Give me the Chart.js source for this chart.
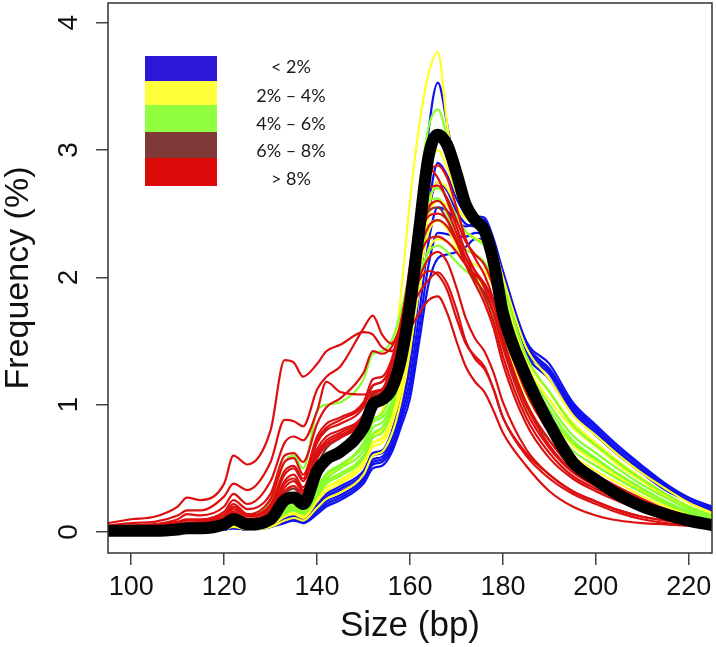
<!DOCTYPE html>
<html>
<head>
<meta charset="utf-8">
<script src="https://cdn.jsdelivr.net/npm/chart.js@4.4.0/dist/chart.umd.min.js"></script>
<style>
  html, body { margin: 0; padding: 0; background: #fff; }
  #wrap { width: 716px; height: 647px; position: relative; }
</style>
</head>
<body>
<div id="wrap"><canvas id="sizeChart"></canvas></div>
<script>
// fragment sizes (bp) where each profile is sampled
const sizes = [95,100,105,110,112,115,120,122,125,130,133,135,137,140,142,145,150,152,154,156,158,160,162,164,166,168,170,172,174,176,178,180,185,190,195,200,205,210,215,220,225];

// frequency (%) per sample, grouped by class
const under2 = [
  [0,0,0,0.01,0.01,0.01,0.03,0.05,0.03,0.06, 0.12,0.14,0.11,0.22,0.30,0.36,0.48,0.62,0.64,0.78, 1.08,1.55,2.30,3.15,3.53,3.20,2.80,2.55,2.46,2.45, 2.28,2.02,1.48,1.28,1.00,0.82,0.65,0.51,0.37,0.27, 0.19],
  [0,0,0,0.01,0.01,0.01,0.02,0.04,0.02,0.05, 0.10,0.12,0.10,0.20,0.27,0.32,0.44,0.57,0.59,0.72, 0.95,1.30,1.90,2.55,2.90,2.80,2.62,2.50,2.48,2.47, 2.30,2.05,1.50,1.32,1.02,0.84,0.67,0.52,0.38,0.27, 0.20],
  [0,0,0,0.01,0.01,0.01,0.02,0.03,0.02,0.04, 0.09,0.11,0.09,0.18,0.24,0.29,0.42,0.55,0.57,0.68, 0.90,1.20,1.72,2.28,2.55,2.52,2.44,2.40,2.42,2.40, 2.24,2.00,1.46,1.28,0.99,0.80,0.63,0.49,0.36,0.25, 0.18],
  [0,0,0,0,0.01,0.01,0.02,0.03,0.02,0.04, 0.08,0.10,0.08,0.16,0.22,0.27,0.40,0.53,0.55,0.65, 0.86,1.12,1.60,2.10,2.35,2.34,2.32,2.32,2.35,2.34, 2.20,1.96,1.44,1.26,0.97,0.78,0.62,0.48,0.35,0.25, 0.17],
  [0,0,0,0,0.01,0.01,0.02,0.03,0.02,0.04, 0.07,0.09,0.07,0.14,0.20,0.25,0.38,0.50,0.52,0.62, 0.82,1.05,1.50,1.95,2.15,2.18,2.20,2.24,2.30,2.30, 2.17,1.94,1.42,1.24,0.95,0.76,0.60,0.47,0.34,0.24, 0.16],
  [0,0,0,0.01,0.01,0.01,0.03,0.04,0.03,0.05, 0.11,0.13,0.11,0.21,0.28,0.34,0.46,0.60,0.62,0.75, 1.00,1.38,2.00,2.52,2.75,2.68,2.52,2.42,2.40,2.38, 2.22,1.98,1.40,1.20,0.93,0.76,0.60,0.46,0.33,0.24, 0.16]
];
const from2to4 = [
  [0.01,0.01,0.01,0.02,0.02,0.02,0.04,0.06,0.04,0.08, 0.17,0.19,0.16,0.33,0.44,0.50,0.70,0.88,0.95,1.25, 1.85,2.60,3.20,3.60,3.77,3.20,2.78,2.56,2.47,2.42, 2.25,1.95,1.38,1.10,0.85,0.68,0.52,0.40,0.28,0.19, 0.12],
  [0,0.01,0.01,0.01,0.02,0.02,0.03,0.05,0.03,0.06, 0.13,0.15,0.12,0.26,0.35,0.40,0.55,0.70,0.74,0.88, 1.18,1.65,2.30,2.82,3.00,2.86,2.66,2.50,2.42,2.36, 2.20,1.93,1.36,1.10,0.86,0.70,0.55,0.42,0.30,0.20, 0.13],
  [0,0,0.01,0.01,0.01,0.02,0.03,0.05,0.03,0.05, 0.12,0.14,0.11,0.24,0.32,0.38,0.52,0.67,0.70,0.84, 1.10,1.50,2.05,2.48,2.60,2.56,2.46,2.36,2.31,2.26, 2.10,1.86,1.32,1.04,0.82,0.67,0.53,0.40,0.29,0.20, 0.13],
  [0,0,0.01,0.01,0.01,0.02,0.03,0.05,0.03,0.06, 0.13,0.15,0.12,0.26,0.35,0.41,0.55,0.70,0.73,0.86, 1.10,1.45,1.90,2.22,2.30,2.28,2.22,2.15,2.10,2.05, 1.92,1.70,1.20,0.90,0.68,0.55,0.43,0.32,0.22,0.15, 0.10],
  [0,0,0.01,0.01,0.01,0.01,0.02,0.04,0.02,0.04, 0.09,0.11,0.09,0.19,0.26,0.31,0.45,0.60,0.63,0.76, 1.02,1.42,2.02,2.55,2.75,2.70,2.56,2.46,2.43,2.41, 2.26,2.00,1.45,1.20,0.92,0.76,0.60,0.46,0.34,0.23, 0.15],
  [0.01,0.01,0.01,0.02,0.02,0.02,0.04,0.06,0.04,0.07, 0.15,0.18,0.15,0.30,0.40,0.46,0.60,0.76,0.80,0.92, 1.18,1.56,2.02,2.36,2.45,2.38,2.25,2.10,2.00,1.92, 1.78,1.55,1.08,0.80,0.60,0.48,0.38,0.28,0.20,0.13, 0.09]
];
const from4to6 = [
  [0.01,0.01,0.01,0.02,0.02,0.02,0.04,0.07,0.04,0.08, 0.18,0.20,0.17,0.34,0.45,0.52,0.70,0.88,0.93,1.10, 1.48,2.05,2.70,3.18,3.32,3.10,2.80,2.56,2.43,2.36, 2.16,1.86,1.26,0.96,0.72,0.58,0.45,0.34,0.24,0.16, 0.10],
  [0.02,0.03,0.03,0.05,0.06,0.07,0.12,0.20,0.14,0.25, 0.55,0.60,0.50,0.95,1.00,1.02,1.20,1.40,1.42,1.50, 1.72,2.05,2.40,2.60,2.62,2.50,2.30,2.10,1.95,1.85, 1.68,1.45,0.98,0.72,0.52,0.42,0.33,0.24,0.17,0.11, 0.07],
  [0,0.01,0.01,0.01,0.02,0.02,0.03,0.06,0.04,0.07, 0.15,0.18,0.15,0.30,0.40,0.46,0.60,0.77,0.82,0.97, 1.28,1.72,2.30,2.62,2.70,2.62,2.48,2.36,2.30,2.25, 2.10,1.85,1.30,1.00,0.76,0.62,0.49,0.37,0.27,0.18, 0.12],
  [0,0.01,0.01,0.01,0.02,0.02,0.04,0.07,0.04,0.08, 0.17,0.20,0.16,0.32,0.42,0.50,0.64,0.82,0.86,1.00, 1.30,1.70,2.15,2.40,2.45,2.40,2.32,2.22,2.18,2.12, 1.98,1.75,1.22,0.92,0.70,0.57,0.45,0.34,0.24,0.16, 0.10],
  [0,0.01,0.01,0.01,0.02,0.02,0.03,0.06,0.03,0.07, 0.14,0.17,0.14,0.28,0.38,0.44,0.58,0.74,0.78,0.94, 1.28,1.80,2.50,2.98,3.10,2.95,2.70,2.50,2.40,2.35, 2.20,1.95,1.38,1.10,0.84,0.68,0.54,0.41,0.30,0.20, 0.13],
  [0.01,0.01,0.01,0.02,0.02,0.02,0.04,0.08,0.05,0.09, 0.19,0.22,0.18,0.35,0.46,0.53,0.68,0.86,0.90,1.02, 1.28,1.62,2.00,2.20,2.25,2.20,2.12,2.05,2.00,1.95, 1.82,1.60,1.12,0.85,0.64,0.52,0.41,0.31,0.22,0.15, 0.10]
];
const from6to8 = [
  [0.01,0.02,0.02,0.03,0.03,0.04,0.07,0.12,0.08,0.13, 0.30,0.34,0.28,0.52,0.66,0.74,0.90,1.08,1.12,1.25, 1.52,1.90,2.30,2.52,2.55,2.45,2.28,2.10,1.98,1.88, 1.72,1.48,1.00,0.72,0.50,0.40,0.31,0.23,0.16,0.10, 0.06]
];
const over8 = [
  [0.07,0.10,0.12,0.20,0.27,0.25,0.38,0.60,0.53,0.80, 1.35,1.33,1.22,1.32,1.42,1.47,1.57,1.55,1.45,1.42, 1.50,1.60,1.72,1.82,1.85,1.72,1.50,1.30,1.18,1.10, 0.95,0.78,0.52,0.32,0.20,0.13,0.09,0.07,0.06,0.05, 0.05],
  [0.05,0.07,0.08,0.13,0.17,0.17,0.28,0.38,0.33,0.55, 0.88,0.87,0.83,1.12,1.22,1.30,1.60,1.70,1.55,1.48, 1.60,1.75,1.88,1.98,2.04,1.95,1.75,1.50,1.36,1.28, 1.12,0.90,0.60,0.42,0.30,0.22,0.15,0.10,0.07,0.06, 0.05],
  [0.04,0.05,0.06,0.10,0.14,0.13,0.20,0.30,0.22,0.40, 0.70,0.75,0.72,0.95,1.18,1.10,1.08,1.10,1.12,1.30, 1.55,1.80,2.00,2.15,2.20,2.12,1.92,1.68,1.52,1.42, 1.25,1.02,0.65,0.45,0.32,0.24,0.17,0.12,0.09,0.07, 0.06],
  [0.03,0.04,0.05,0.07,0.09,0.09,0.14,0.22,0.14,0.26, 0.55,0.58,0.45,0.75,0.85,0.90,1.02,1.20,1.22,1.35, 1.65,2.00,2.35,2.55,2.60,2.52,2.35,2.15,2.00,1.85, 1.65,1.38,0.90,0.62,0.44,0.34,0.26,0.19,0.14,0.10, 0.07],
  [0.02,0.03,0.04,0.05,0.06,0.07,0.11,0.18,0.12,0.20, 0.45,0.50,0.40,0.70,0.80,0.85,0.98,1.15,1.18,1.32, 1.62,2.05,2.50,2.80,2.88,2.78,2.55,2.30,2.15,2.02, 1.82,1.52,1.00,0.68,0.48,0.37,0.28,0.20,0.14,0.10, 0.07],
  [0.03,0.05,0.06,0.08,0.10,0.10,0.16,0.25,0.18,0.30, 0.60,0.62,0.55,0.85,0.98,1.05,1.25,1.42,1.40,1.45, 1.62,1.82,1.98,2.05,2.02,1.90,1.68,1.48,1.38,1.30, 1.12,0.90,0.62,0.45,0.32,0.24,0.17,0.12,0.09,0.07, 0.06],
  [0.02,0.03,0.03,0.05,0.06,0.06,0.10,0.16,0.10,0.18, 0.40,0.45,0.35,0.65,0.75,0.80,0.92,1.10,1.12,1.25, 1.60,2.10,2.60,2.85,2.78,2.60,2.40,2.20,2.05,1.92, 1.72,1.45,0.95,0.66,0.47,0.36,0.27,0.19,0.13,0.09, 0.06],
  [0.02,0.02,0.03,0.04,0.05,0.05,0.09,0.15,0.10,0.17, 0.38,0.42,0.33,0.62,0.72,0.78,0.90,1.06,1.10,1.20, 1.45,1.82,2.20,2.40,2.45,2.40,2.28,2.15,2.05,1.95, 1.78,1.52,1.02,0.72,0.52,0.40,0.30,0.22,0.15,0.10, 0.07],
  [0.03,0.04,0.04,0.06,0.07,0.08,0.12,0.20,0.13,0.22, 0.48,0.52,0.42,0.72,0.82,0.88,1.00,1.15,1.18,1.30, 1.58,1.95,2.30,2.48,2.50,2.45,2.30,2.10,1.95,1.80, 1.60,1.32,0.85,0.58,0.42,0.32,0.24,0.17,0.12,0.08, 0.06],
  [0.02,0.03,0.03,0.04,0.05,0.05,0.08,0.14,0.09,0.16, 0.35,0.40,0.32,0.60,0.70,0.76,0.88,1.02,1.06,1.18, 1.48,1.95,2.45,2.70,2.72,2.62,2.45,2.28,2.18,2.10, 1.92,1.65,1.10,0.78,0.56,0.43,0.33,0.24,0.17,0.12, 0.08],
  [0.02,0.02,0.03,0.04,0.04,0.05,0.08,0.13,0.08,0.15, 0.32,0.36,0.30,0.58,0.68,0.74,0.86,1.00,1.04,1.16, 1.42,1.80,2.15,2.30,2.32,2.28,2.20,2.10,2.02,1.95, 1.80,1.58,1.10,0.80,0.58,0.45,0.35,0.26,0.18,0.12, 0.08]
];
// average profile
const meanProfile = [0.01,0.01,0.01,0.02,0.03,0.03,0.06,0.10,0.06,0.10, 0.25,0.27,0.22,0.48,0.57,0.63,0.82,1.00,1.04,1.12, 1.35,1.78,2.38,2.95,3.12,3.04,2.82,2.57,2.45,2.37, 2.12,1.72,1.22,0.85,0.55,0.41,0.29,0.20,0.14,0.09, 0.055];

const xTicks = [100, 120, 140, 160, 180, 200, 220];
const yTicks = [0, 1, 2, 3, 4];
const legendLabels = ["< 2%", "2% \u2013 4%", "4% \u2013 6%", "6% \u2013 8%", "> 8%"];
const legendColors = ["#2a17d8", "#ffff3a", "#8fff3f", "#7f3a37", "#dd0a0a"];
const lineColors = ["#1010f0", "#ffff20", "#86ff2a", "#8a3430", "#dc1010"];

function toPoints(vals) {
  return sizes.map((s, i) => ({ x: s, y: vals[i] }));
}

// Chart.js paints dataset 0 last (on top): mean first, blue last
const datasets = [{ data: toPoints(meanProfile), borderColor: "#000", borderWidth: 12 }];
const grupos = [under2, from2to4, from4to6, from6to8, over8];
for (let g = grupos.length - 1; g >= 0; g--) {
  grupos[g].forEach(vals => {
    datasets.push({
      data: toPoints(vals),
      borderColor: lineColors[g],
      borderWidth: 2.2
    });
  });
}

// legend boxes and frame, as in the R figure
const extras = {
  id: "extras",
  afterDraw(chart) {
    const ctx = chart.ctx;
    const a = chart.chartArea;
    ctx.save();
    ctx.strokeStyle = "#333";
    ctx.lineWidth = 1.5;
    ctx.strokeRect(a.left, a.top, a.right - a.left, a.bottom - a.top);
    const tops = [56, 81, 105, 132, 158, 186];
    legendColors.forEach((c, i) => {
      ctx.fillStyle = c;
      ctx.fillRect(145, tops[i], 72, tops[i + 1] - tops[i]);
    });
    ctx.fillStyle = "#1a1a1a";
    ctx.font = "18px Lato";
    ctx.textAlign = "center";
    ctx.textBaseline = "middle";
    const mids = [67, 96, 124, 151, 179];
    legendLabels.forEach((t, i) => ctx.fillText(t, 291, mids[i]));
    ctx.restore();
  }
};

new Chart(document.getElementById("sizeChart"), {
  type: "line",
  data: { datasets },
  options: {
    responsive: true,
    maintainAspectRatio: false,
    animation: false,
    layout: { padding: { top: 3, right: 4, left: 0, bottom: 0 } },
    elements: {
      point: { radius: 0 },
      line: { cubicInterpolationMode: "monotone", borderCapStyle: "round", borderJoinStyle: "round" }
    },
    plugins: { legend: { display: false }, tooltip: { enabled: false } },
    scales: {
      x: {
        type: "linear",
        min: 95,
        max: 225,
        afterBuildTicks: s => { s.ticks = xTicks.map(v => ({ value: v })); },
        afterFit: s => { s.height = 94; s.paddingLeft = 0; s.paddingRight = 0; },
        grid: { display: true, drawOnChartArea: false, drawTicks: true, tickLength: 12, tickColor: "#444", lineWidth: 1.5 },
        border: { display: false },
        ticks: { color: "#111", font: { family: "Liberation Sans", size: 27 }, padding: 6, maxRotation: 0 },
        title: { display: true, text: "Size (bp)", color: "#111", font: { family: "Liberation Sans", size: 35 }, padding: { top: 0, bottom: 0 } }
      },
      y: {
        type: "linear",
        min: -0.165,
        max: 4.155,
        afterBuildTicks: s => { s.ticks = yTicks.map(v => ({ value: v })); },
        afterFit: s => { s.width = 108; s.paddingTop = 0; s.paddingBottom = 0; },
        grid: { display: true, drawOnChartArea: false, drawTicks: true, tickLength: 12, tickColor: "#444", lineWidth: 1.5 },
        border: { display: false },
        ticks: { color: "#111", font: { family: "Liberation Sans", size: 28 }, padding: 19, minRotation: 90, maxRotation: 90, crossAlign: "center" },
        title: { display: true, text: "Frequency (%)", color: "#111", font: { family: "Liberation Sans", size: 34, lineHeight: 1.1 }, padding: { top: 0, bottom: 0 } }
      }
    }
  },
  plugins: [extras]
});
</script>
</body>
</html>
